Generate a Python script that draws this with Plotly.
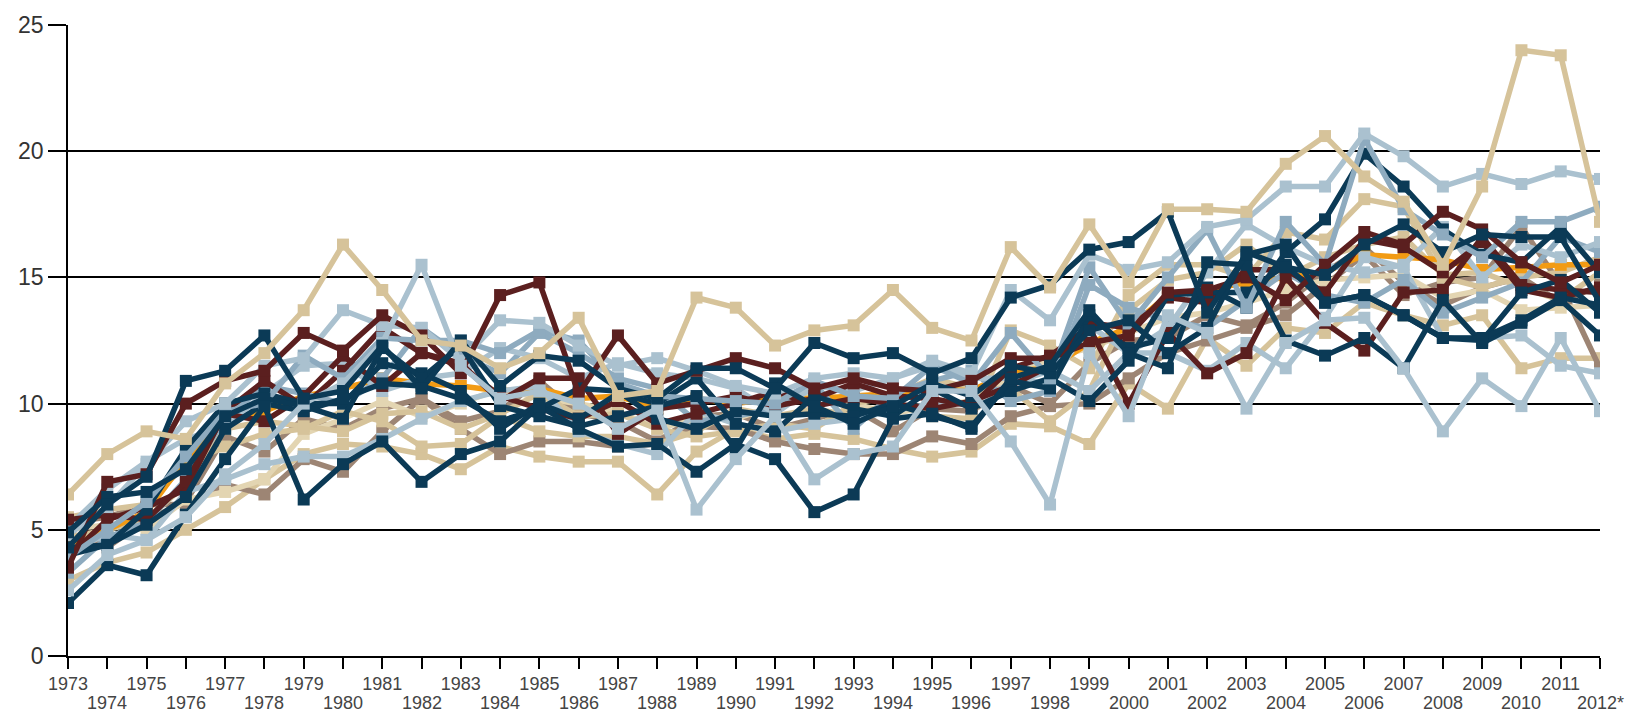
import plotly.graph_objects as go

years = list(range(1973, 2013))
tick_labels = [str(y) for y in years[:-1]] + ["2012*"]

NAVY = "#0b3a56"
MAROON = "#5b1f1f"
TAN = "#d6c39a"
LBLUE = "#aac1cf"
MBLUE = "#8eabbf"
TAUPE = "#9d8574"
ORANGE = "#f29b14"
BEIGE = "#e3d5b2"

t2 = [3.0, 3.7, 4.1, 5.0, 5.9, 7.0, 8.0, 8.4, 8.3, 8.0, 7.4, 8.3, 7.9, 7.7, 7.7, 6.4, 8.1, 9.0, 8.6, 8.8,
      8.6, 8.2, 7.9, 8.1, 9.2, 9.1, 8.4, 10.8, 9.8, 12.6, 11.5, 13.0, 12.8, 14.0, 13.5, 13.1, 13.5, 11.4, 11.8, 11.8]
p1 = [5.3, 5.5, 6.0, 6.0, 6.8, 6.4, 7.8, 7.3, 8.9, 10.2, 9.0, 8.0, 8.5, 8.5, 8.3, 8.4, 9.1, 9.0, 8.5, 8.2,
      8.0, 8.0, 8.7, 8.4, 9.5, 9.9, 10.0, 11.0, 12.0, 12.5, 13.0, 13.5, 14.7, 15.9, 14.3, 14.8, 15.0, 17.0, 14.7, 11.4]
p2 = [4.9, 4.3, 5.4, 6.1, 8.7, 8.1, 9.4, 9.0, 9.8, 10.2, 9.3, 9.7, 10.9, 9.6, 9.3, 8.5, 9.5, 9.6, 9.0, 9.4,
      9.8, 8.9, 9.8, 9.7, 10.7, 10.0, 11.6, 12.5, 12.6, 13.5, 13.1, 14.0, 15.2, 16.2, 14.8, 13.9, 14.6, 15.0, 14.0, 14.7]
e1 = [5.0, 5.2, 5.0, 6.2, 6.5, 7.0, 8.8, 9.4, 10.1, 9.5, 10.0, 10.6, 10.2, 10.0, 9.7, 9.0, 9.4, 9.4, 9.9, 10.5,
      10.0, 9.6, 9.9, 10.1, 11.0, 11.8, 12.2, 12.8, 13.4, 13.6, 14.0, 14.5, 14.9, 15.0, 15.1, 14.2, 14.5, 13.7, 13.8, 13.9]
t4 = [4.7, 5.0, 5.4, 6.8, 9.0, 9.3, 9.1, 8.9, 9.6, 9.7, 9.0, 9.6, 10.4, 9.5, 9.6, 9.0, 8.7, 8.9, 9.2, 9.0,
      10.0, 10.3, 11.0, 10.6, 10.6, 9.3, 10.5, 13.7, 14.9, 15.2, 16.3, 15.0, 15.8, 16.3, 16.6, 15.1, 15.2, 14.6, 14.1, 15.2]
t3 = [5.5, 5.8, 6.0, 7.6, 8.3, 8.8, 9.0, 9.7, 9.3, 8.3, 8.4, 9.5, 8.9, 8.7, 8.7, 8.4, 8.9, 9.8, 9.5, 9.8,
      9.5, 10.1, 9.5, 9.4, 12.9, 12.3, 11.4, 14.3, 15.5, 15.5, 15.0, 16.8, 16.5, 18.1, 17.8, 15.0, 14.6, 15.0, 15.2, 15.8]
o1 = [4.3, 5.0, 5.7, 7.8, 9.3, 9.7, 10.3, 10.6, 11.0, 10.8, 10.7, 10.5, 10.6, 10.2, 10.3, 9.8, 10.2, 10.0, 10.2, 10.2,
      10.3, 10.4, 10.6, 10.5, 11.3, 11.4, 12.4, 13.0, 14.3, 14.5, 14.8, 15.0, 15.2, 15.9, 15.8, 15.7, 15.3, 15.4, 15.5, 15.5]
l4 = [4.2, 4.8, 4.6, 6.5, 7.0, 7.6, 7.9, 7.9, 8.6, 9.4, 10.1, 10.5, 10.7, 8.9, 8.4, 8.0, 9.7, 9.2, 8.9, 9.2,
      9.4, 9.7, 10.0, 10.0, 10.8, 11.3, 10.5, 12.0, 12.0, 11.3, 12.4, 11.4, 13.4, 15.8, 15.4, 12.6, 12.6, 12.7, 11.5, 11.2]
l6 = [3.3, 4.7, 5.3, 7.0, 9.4, 10.7, 10.4, 10.0, 11.0, 13.0, 11.9, 11.2, 12.8, 12.0, 11.0, 10.6, 9.3, 9.5, 9.8, 10.8,
      9.0, 10.4, 10.9, 11.3, 10.1, 10.5, 14.7, 13.8, 13.3, 13.0, 14.1, 15.2, 14.3, 14.0, 14.9, 13.6, 14.2, 14.8, 16.6, 16.0]
l5 = [5.1, 6.6, 7.7, 8.6, 9.1, 10.4, 11.5, 11.6, 10.5, 11.0, 11.2, 12.2, 11.8, 11.0, 11.6, 11.2, 11.0, 10.6, 9.6, 10.7,
      10.5, 11.0, 11.5, 11.0, 11.0, 10.8, 13.1, 12.0, 13.0, 15.2, 17.1, 16.2, 15.5, 15.2, 15.5, 17.0, 15.0, 16.3, 15.8, 16.4]
m3 = [3.9, 5.4, 5.9, 6.6, 9.7, 10.9, 9.9, 11.3, 13.0, 12.0, 11.5, 10.3, 9.8, 9.4, 10.1, 9.2, 9.6, 10.0, 10.5, 9.9,
      10.2, 10.0, 9.8, 10.1, 10.7, 11.5, 13.2, 13.0, 14.2, 14.0, 15.3, 15.3, 14.4, 16.5, 16.2, 15.2, 16.4, 14.5, 14.2, 14.6]
m2 = [5.4, 5.6, 5.4, 6.9, 9.6, 9.3, 10.3, 11.9, 10.7, 12.0, 11.6, 10.1, 11.0, 11.0, 8.8, 9.8, 10.0, 10.3, 9.9, 10.2,
      10.8, 10.3, 10.2, 9.9, 11.4, 11.9, 13.0, 10.0, 12.8, 11.2, 12.0, 15.0, 13.2, 12.1, 14.4, 14.5, 16.6, 14.7, 14.5, 14.4]
n3 = [4.3, 4.4, 5.8, 8.2, 10.0, 10.4, 10.0, 10.0, 11.6, 11.2, 10.5, 9.0, 10.0, 9.4, 10.4, 10.0, 11.0, 9.2, 8.9, 10.3,
      9.8, 9.5, 10.6, 9.8, 10.5, 11.0, 10.1, 11.7, 14.3, 14.4, 14.4, 15.5, 14.0, 14.3, 13.5, 12.6, 12.5, 14.4, 14.9, 13.6]
n5 = [4.0, 4.4, 5.2, 6.3, 9.0, 10.0, 9.7, 10.2, 10.8, 10.7, 10.2, 9.3, 9.8, 10.6, 10.5, 9.4, 9.0, 9.7, 9.5, 9.6,
      9.5, 10.0, 9.5, 9.1, 10.9, 10.6, 13.5, 12.2, 12.6, 14.6, 13.8, 16.0, 17.3, 19.9, 18.6, 16.9, 15.9, 15.6, 17.0, 15.2]
l3 = [3.9, 5.0, 6.1, 7.9, 9.7, 10.0, 11.9, 11.0, 12.6, 12.5, 12.5, 12.0, 12.9, 12.5, 10.8, 10.3, 10.2, 10.1, 10.0, 10.9,
      10.3, 10.2, 11.5, 10.8, 12.8, 11.0, 15.4, 13.1, 15.0, 16.9, 13.8, 17.2, 15.5, 20.5, 17.7, 16.7, 15.8, 17.2, 17.2, 17.8]
l2 = [4.8, 5.9, 7.6, 9.3, 10.0, 11.5, 11.8, 13.7, 13.1, 13.0, 11.7, 13.3, 13.2, 12.3, 11.5, 11.8, 11.3, 10.7, 10.4, 11.0,
      11.2, 11.0, 11.7, 11.2, 14.5, 13.3, 15.9, 15.3, 15.6, 17.0, 17.3, 18.6, 18.6, 20.7, 19.8, 18.6, 19.1, 18.7, 19.2, 18.9]
m1 = [3.5, 6.9, 7.2, 10.0, 10.9, 11.3, 12.8, 12.1, 13.5, 12.7, 11.2, 14.3, 14.8, 10.4, 12.7, 10.8, 11.3, 11.8, 11.4, 10.6,
      11.0, 10.6, 10.5, 10.9, 11.8, 11.8, 12.4, 12.7, 14.4, 14.5, 15.0, 14.1, 15.5, 16.8, 16.3, 17.6, 16.9, 15.6, 14.8, 15.5]
n4 = [4.9, 6.3, 6.5, 7.4, 9.5, 10.2, 9.9, 9.4, 12.2, 11.0, 12.3, 9.9, 9.5, 9.1, 9.5, 9.9, 10.3, 8.2, 10.8, 9.9,
      9.2, 9.9, 10.8, 10.3, 11.5, 11.2, 12.9, 13.3, 12.0, 13.0, 16.0, 15.4, 15.1, 16.3, 17.1, 16.0, 16.7, 16.6, 16.6, 14.0]
n2 = [2.1, 3.6, 3.2, 5.6, 7.8, 9.9, 6.2, 7.6, 8.5, 6.9, 8.0, 8.5, 9.9, 9.0, 8.3, 8.4, 7.3, 8.4, 7.8, 5.7,
      6.4, 9.4, 9.6, 9.0, 11.0, 11.5, 13.7, 12.0, 11.4, 15.6, 15.5, 12.5, 11.9, 12.6, 11.4, 14.1, 12.4, 13.2, 14.1, 12.7]
l1 = [2.6, 4.0, 4.6, 5.5, 7.2, 8.4, 10.0, 10.8, 12.4, 15.5, 11.5, 10.2, 10.5, 10.0, 9.0, 9.8, 5.8, 7.8, 9.5, 7.0,
      8.0, 8.3, 10.5, 10.5, 8.5, 6.0, 12.0, 9.5, 13.5, 12.8, 9.8, 12.4, 13.3, 13.4, 11.4, 8.9, 11.0, 9.9, 12.6, 9.7]
n1 = [4.3, 6.0, 7.1, 10.9, 11.3, 12.7, 10.2, 10.5, 12.3, 10.6, 12.5, 10.7, 11.9, 11.7, 10.6, 10.2, 11.4, 11.4, 10.6, 12.4,
      11.8, 12.0, 11.2, 11.8, 14.2, 14.7, 16.1, 16.4, 17.6, 13.6, 15.9, 16.3, 14.0, 14.3, 13.5, 12.6, 12.6, 13.3, 14.2, 13.9]
t1 = [6.4, 8.0, 8.9, 8.6, 10.8, 12.0, 13.7, 16.3, 14.5, 12.5, 12.3, 11.4, 12.0, 13.4, 10.3, 10.5, 14.2, 13.8, 12.3, 12.9,
      13.1, 14.5, 13.0, 12.5, 16.2, 14.6, 17.1, 14.8, 17.7, 17.7, 17.6, 19.5, 20.6, 19.0, 18.0, 15.5, 18.6, 24.0, 23.8, 17.2]

series = [
    (t2, TAN), (p1, TAUPE), (p2, TAUPE), (e1, BEIGE), (t4, TAN), (t3, TAN), (o1, ORANGE),
    (l4, LBLUE), (l6, MBLUE), (l5, LBLUE), (m3, MAROON), (m2, MAROON), (n3, NAVY), (n5, NAVY),
    (l3, MBLUE), (l2, LBLUE), (m1, MAROON), (n4, NAVY), (n2, NAVY), (l1, LBLUE), (n1, NAVY), (t1, TAN),
]

fig = go.Figure()
for vals, col in series:
    fig.add_trace(go.Scatter(
        x=years, y=vals, mode="lines+markers",
        line=dict(color=col, width=5.5),
        marker=dict(symbol="square", size=12, color=col),
        hoverinfo="skip", showlegend=False,
    ))

FONT = "Liberation Sans, Arial, sans-serif"
for y in years:
    if (y - 1973) % 2 == 1:
        fig.add_annotation(x=y, y=0, xref="x", yref="paper", text=tick_labels[y - 1973],
                           showarrow=False, yanchor="middle", yshift=-47,
                           font=dict(family=FONT, size=18, color="#444"))

fig.update_layout(
    width=1620, height=706,
    margin=dict(l=60, r=28, t=17, b=58),
    paper_bgcolor="white", plot_bgcolor="white",
    font=dict(family=FONT, color="#333"),
)
fig.update_xaxes(
    range=[1973, 2012], tickmode="array", tickvals=years,
    ticktext=[tick_labels[y - 1973] if (y - 1973) % 2 == 0 else "" for y in years],
    ticks="outside", ticklen=11, tickwidth=1.5, tickcolor="black",
    showline=True, linecolor="black", linewidth=1.5,
    showgrid=False, zeroline=False, automargin=False,
    tickfont=dict(size=18, color="#444"),
)
fig.update_yaxes(
    range=[0, 25], tickvals=[0, 5, 10, 15, 20, 25],
    ticks="outside", ticklen=18, tickwidth=1.5, tickcolor="black",
    showline=True, linecolor="black", linewidth=1.5,
    showgrid=True, gridcolor="black", gridwidth=1.5, zeroline=False, automargin=False,
    tickfont=dict(size=23, color="#333"),
)
fig.write_html("out.html")
